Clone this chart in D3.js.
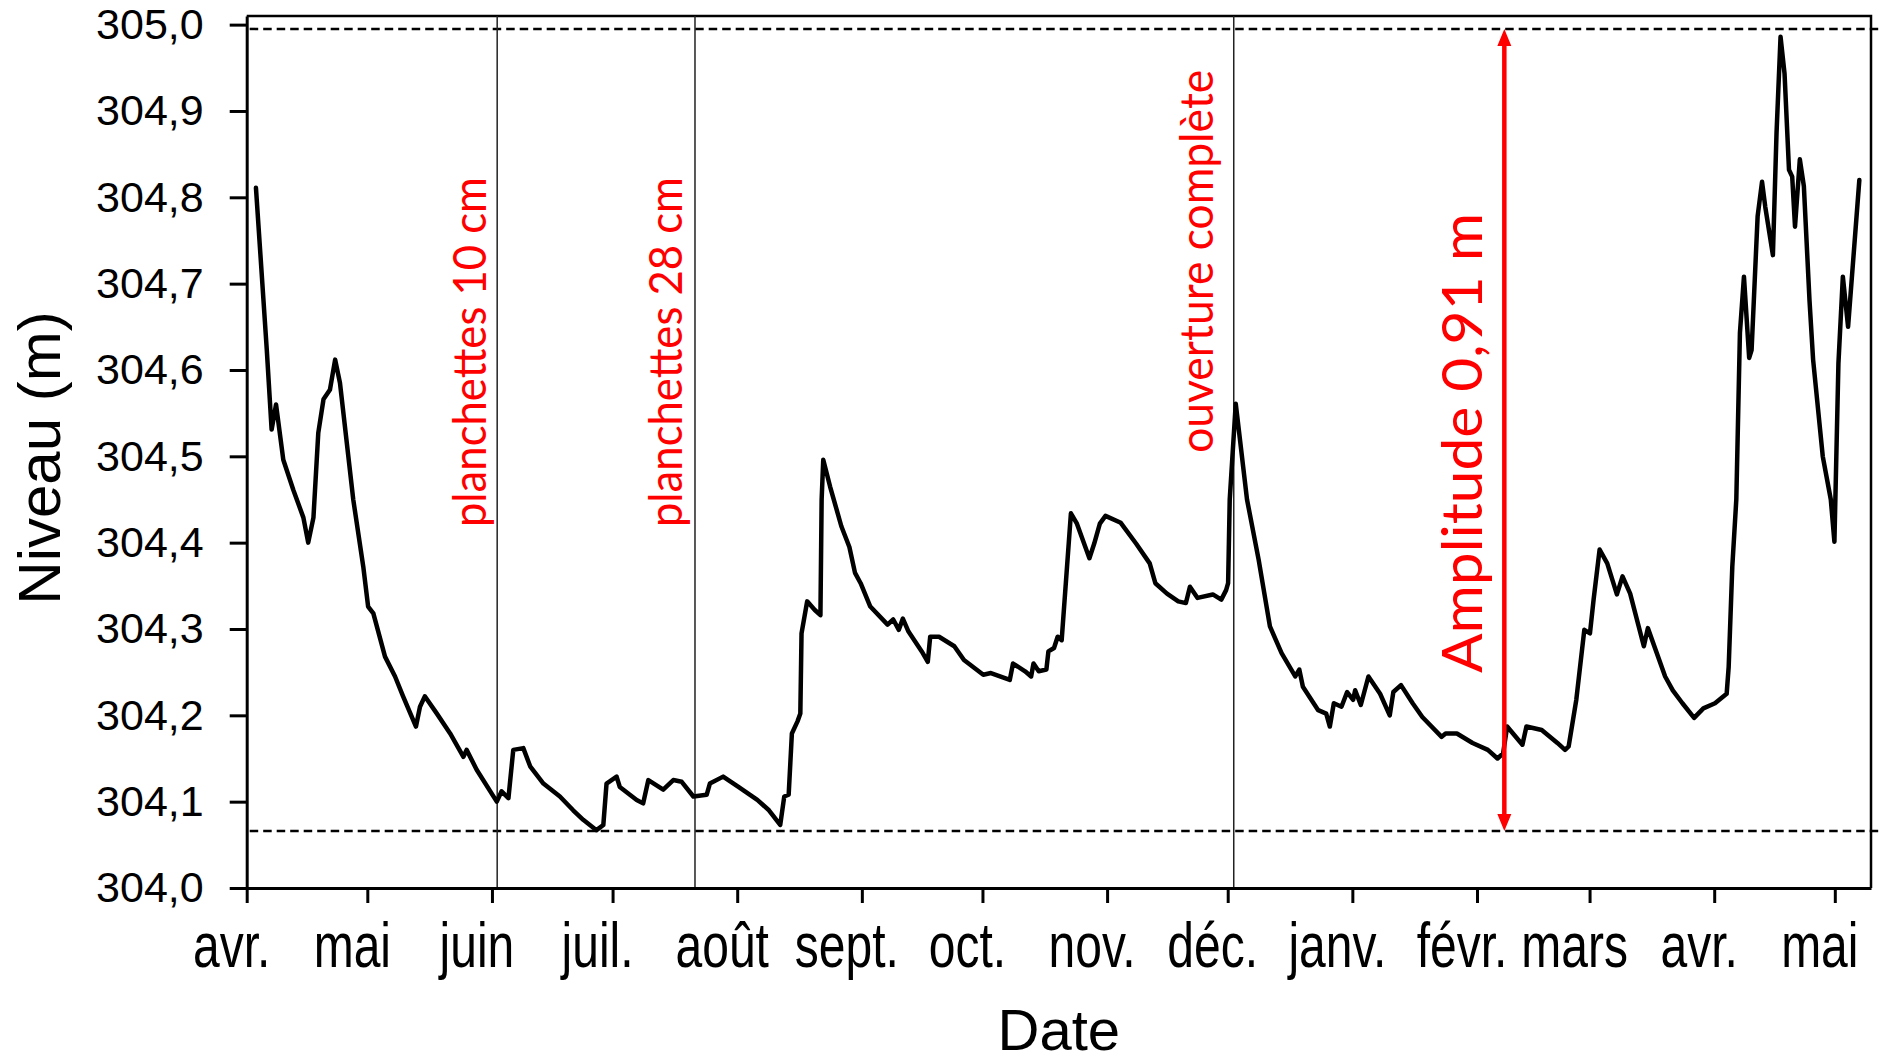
<!DOCTYPE html>
<meta charset="utf-8">
<title>Niveau du lac - avril à mai</title>
<style>
body {
  margin: 0;
  background: #fff;
}

text {
  font-family: "Liberation Sans", Arial, sans-serif;
  fill: #000;
}

.axis path,
.axis line {
  stroke: #000;
  stroke-width: 3px;
}

.axis text {
  font-size: 43px;
}

.x.axis text {
  font-size: 48px;
}

.annot {
  font-family: Lato, "Noto Sans", sans-serif;
  fill: #ff0000;
}
</style>
<body>
<div id="chart"></div>

<script src="https://cdn.jsdelivr.net/npm/d3@7"></script>
<script>
// Jours écoulés depuis le 1er avril 2014
const jours = [
  2.3, 5.0, 6.2, 7.3, 9.1, 11.6, 14.1, 15.3, 16.6, 17.8,
  19.1, 20.7, 22.0, 23.2, 26.5, 29.0, 30.2, 31.5, 34.4, 36.9,
  38.9, 42.1, 43.1, 44.3, 47.3, 50.6, 53.9, 54.7, 57.2, 62.2,
  63.4, 65.1, 66.3, 68.8, 70.5, 73.8, 77.9, 81.2, 83.7, 87.0,
  88.7, 89.5, 92.0, 92.8, 97.0, 98.6, 99.9, 103.6, 106.1, 108.2,
  111.1, 114.4, 115.2, 118.5, 122.3, 127.0, 129.9, 132.7, 133.7, 134.8,
  135.6, 137.0, 137.7, 138.0, 139.4, 141.3, 142.7, 143.0, 143.4, 145.1,
  147.9, 149.9, 151.3, 152.7, 155.1, 159.4, 160.8, 162.2, 163.2, 164.6,
  167.9, 169.4, 170.0, 172.2, 176.0, 178.4, 183.2, 185.1, 189.8, 190.6,
  193.6, 195.1, 195.7, 197.0, 198.9, 199.4, 200.8, 201.7, 202.7, 205.0,
  206.5, 209.6, 210.8, 212.2, 213.6, 217.4, 221.2, 224.6, 226.0, 228.9,
  231.7, 233.6, 234.6, 236.5, 240.3, 242.4, 243.6, 244.1, 244.5, 246.0,
  248.8, 251.7, 254.5, 257.4, 260.8, 261.8, 262.7, 266.5, 268.5, 269.4,
  270.4, 272.3, 273.7, 275.2, 275.7, 277.1, 279.0, 281.9, 284.3, 285.2,
  287.1, 290.0, 292.4, 297.2, 298.2, 301.0, 304.9, 308.7, 311.1, 312.5,
  313.5, 317.3, 318.3, 322.1, 326.0, 327.9, 328.8, 330.7, 332.7, 334.1,
  335.0, 336.5, 338.4, 340.8, 342.2, 344.1, 347.5, 348.5, 352.8, 354.7,
  357.1, 360.0, 362.3, 365.2, 368.1, 368.6, 369.5, 370.5, 371.4, 372.4,
  373.7, 374.3, 375.8, 376.9, 377.7, 379.6, 380.5, 381.5, 382.5, 383.6,
  384.4, 385.1, 386.3, 387.3, 388.7, 389.6, 392.0, 394.0, 394.9, 395.9,
  397.0, 398.3, 401.1
];

// Niveau du lac (m)
const niveaux = [
  304.811, 304.623, 304.531, 304.560, 304.496, 304.461, 304.429, 304.400, 304.429, 304.527,
  304.566, 304.577, 304.612, 304.585, 304.450, 304.372, 304.326, 304.318, 304.268, 304.245,
  304.222, 304.187, 304.210, 304.222, 304.202, 304.179, 304.152, 304.160, 304.137, 304.100,
  304.112, 304.104, 304.160, 304.162, 304.141, 304.121, 304.106, 304.090, 304.079, 304.067,
  304.073, 304.121, 304.129, 304.117, 304.102, 304.098, 304.125, 304.114, 304.125, 304.123,
  304.106, 304.108, 304.121, 304.129, 304.117, 304.102, 304.090, 304.073, 304.106, 304.108,
  304.179, 304.193, 304.202, 304.295, 304.332, 304.322, 304.316, 304.450, 304.496, 304.465,
  304.419, 304.395, 304.365, 304.353, 304.326, 304.305, 304.311, 304.299, 304.312, 304.297,
  304.274, 304.262, 304.291, 304.291, 304.280, 304.264, 304.247, 304.249, 304.241, 304.260,
  304.251, 304.245, 304.260, 304.251, 304.253, 304.274, 304.278, 304.291, 304.287, 304.434,
  304.422, 304.382, 304.399, 304.422, 304.431, 304.423, 304.399, 304.376, 304.353, 304.341,
  304.332, 304.330, 304.349, 304.336, 304.340, 304.334, 304.345, 304.353, 304.450, 304.561,
  304.450, 304.380, 304.303, 304.272, 304.245, 304.253, 304.233, 304.206, 304.202, 304.187,
  304.214, 304.210, 304.227, 304.218, 304.229, 304.212, 304.245, 304.225, 304.200, 304.227,
  304.235, 304.214, 304.198, 304.175, 304.179, 304.179, 304.168, 304.160, 304.150, 304.156,
  304.187, 304.166, 304.187, 304.183, 304.168, 304.160, 304.164, 304.218, 304.299, 304.295,
  304.334, 304.392, 304.376, 304.340, 304.361, 304.341, 304.280, 304.301, 304.245, 304.229,
  304.214, 304.197, 304.208, 304.214, 304.225, 304.256, 304.372, 304.450, 304.643, 304.708,
  304.614, 304.623, 304.778, 304.818, 304.789, 304.733, 304.874, 304.986, 304.943, 304.832,
  304.824, 304.766, 304.844, 304.813, 304.681, 304.612, 304.500, 304.450, 304.401, 304.608,
  304.708, 304.650, 304.820
];

// Axe des x : un repère par mois
const moisLabels = ["avr.", "mai", "juin", "juil.", "août", "sept.", "oct.",
                    "nov.", "déc.", "janv.", "févr.", "mars", "avr.", "mai"];
const yTicks = [304.0, 304.1, 304.2, 304.3, 304.4, 304.5, 304.6, 304.7, 304.8, 304.9, 305.0];

// Interventions sur l'ouvrage (jour) et leurs textes
const eventJours = [62.3, 111.5, 245.5];
const eventLabels = ["planchettes 10 cm", "planchettes 28 cm", "ouverture complète"];
const eventLabelBase = [304.418, 304.418, 304.504];

// Niveaux min / max et flèche d'amplitude
const niveauMin = 304.066;
const niveauMax = 304.995;
const amplitudeJour = 312.8;
const amplitudeLabel = "Amplitude 0,91 m";

// Dimensions
const width = 1884;
const height = 1063;
const mLeft = 246.7, mRight = 1871, mTop = 16, mBottom = 888;

const t0 = Date.UTC(2014, 3, 1);
const toDate = d => new Date(t0 + d * 864e5);

const x = d3.scaleUtc()
    .domain([toDate(0), new Date(Date.UTC(2015, 4, 10))])
    .range([mLeft, mRight]);

const y = d3.scaleLinear()
    .domain([304.0, 305.01])
    .range([mBottom, mTop]);

const svg = d3.select("#chart")
  .append("svg")
    .attr("width", width)
    .attr("height", height);

// Cadre (haut et droite)
svg.append("path")
    .attr("d", `M${mLeft},${mTop}H${mRight}V${mBottom}`)
    .attr("fill", "none")
    .attr("stroke", "#000")
    .attr("stroke-width", 2.5);

// Lignes pointillées min / max
svg.selectAll(".dash")
  .data([niveauMin, niveauMax])
  .enter().append("line")
    .attr("class", "dash")
    .attr("x1", mLeft + 3)
    .attr("x2", width - 2)
    .attr("y1", d => y(d))
    .attr("y2", d => y(d))
    .attr("stroke", "#000")
    .attr("stroke-width", 2.5)
    .attr("stroke-dasharray", "8.5,5");

// Lignes verticales des interventions
svg.selectAll(".event")
  .data(eventJours)
  .enter().append("line")
    .attr("class", "event")
    .attr("x1", d => x(toDate(d)))
    .attr("x2", d => x(toDate(d)))
    .attr("y1", mTop)
    .attr("y2", mBottom)
    .attr("stroke", "#222")
    .attr("stroke-width", 1.5);

// Axe y
const yAxis = d3.axisLeft(y)
    .tickValues(yTicks)
    .tickSize(17)
    .tickSizeOuter(0)
    .tickPadding(26)
    .tickFormat(d => d3.format(".1f")(d).replace(".", ","));

svg.append("g")
    .attr("class", "y axis")
    .attr("transform", `translate(${mLeft},0)`)
    .call(yAxis);

// Axe x
const monthStarts = d3.utcMonth.range(toDate(0), new Date(Date.UTC(2015, 4, 2)));
const xAxis = d3.axisBottom(x)
    .tickValues(monthStarts)
    .tickSize(15)
    .tickSizeOuter(0)
    .tickFormat((d, i) => moisLabels[i]);

const gx = svg.append("g")
    .attr("class", "x axis")
    .attr("transform", `translate(0,${mBottom})`)
    .call(xAxis);

gx.selectAll("text")
    .attr("y", null)
    .attr("dy", null)
    .attr("transform", "translate(-15.5,78.7) scale(1,1.3)");

// Série de niveaux
const serie = jours.map((d, i) => ({ date: toDate(d), niveau: niveaux[i] }));

const line = d3.line()
    .x(d => x(d.date))
    .y(d => y(d.niveau));

svg.append("path")
    .datum(serie)
    .attr("d", line)
    .attr("fill", "none")
    .attr("stroke", "#000")
    .attr("stroke-width", 4.5)
    .attr("stroke-linejoin", "round")
    .attr("stroke-linecap", "round");

// Textes des interventions
const eventLen = [350, 350, 383];
const eventDx = [-11, -13, -21];
svg.selectAll(".event-label")
  .data(eventLabels)
  .enter().append("text")
    .attr("class", "annot event-label")
    .attr("transform", (d, i) =>
      `translate(${x(toDate(eventJours[i])) + eventDx[i]},${y(eventLabelBase[i])}) rotate(-90)`)
    .attr("font-size", 47)
    .attr("textLength", (d, i) => eventLen[i])
    .attr("lengthAdjust", "spacingAndGlyphs")
    .text(d => d);

// Flèche d'amplitude
const ax = x(toDate(amplitudeJour));
const yTop = y(niveauMax), yBot = y(niveauMin);
const headL = 17, headW = 7;

svg.append("line")
    .attr("x1", ax).attr("x2", ax)
    .attr("y1", yTop + headL - 2)
    .attr("y2", yBot - headL + 2)
    .attr("stroke", "#ff0000")
    .attr("stroke-width", 4.5);

svg.append("path")
    .attr("d", `M${ax},${yTop}L${ax - headW},${yTop + headL}L${ax + headW},${yTop + headL}Z` +
               `M${ax},${yBot}L${ax - headW},${yBot - headL}L${ax + headW},${yBot - headL}Z`)
    .attr("fill", "#ff0000");

svg.append("text")
    .attr("class", "annot")
    .attr("transform", `translate(${ax - 22.4},${y(304.249)}) rotate(-90)`)
    .attr("font-size", 57)
    .attr("textLength", 460)
    .attr("lengthAdjust", "spacingAndGlyphs")
    .text(amplitudeLabel);

// Titres des axes
svg.append("text")
    .attr("transform", "translate(60,458) rotate(-90)")
    .attr("text-anchor", "middle")
    .attr("font-size", 60)
    .text("Niveau (m)");

svg.append("text")
    .attr("x", (mLeft + mRight) / 2)
    .attr("y", 1050)
    .attr("text-anchor", "middle")
    .attr("font-size", 58)
    .text("Date");
</script>
</body>
</html>
